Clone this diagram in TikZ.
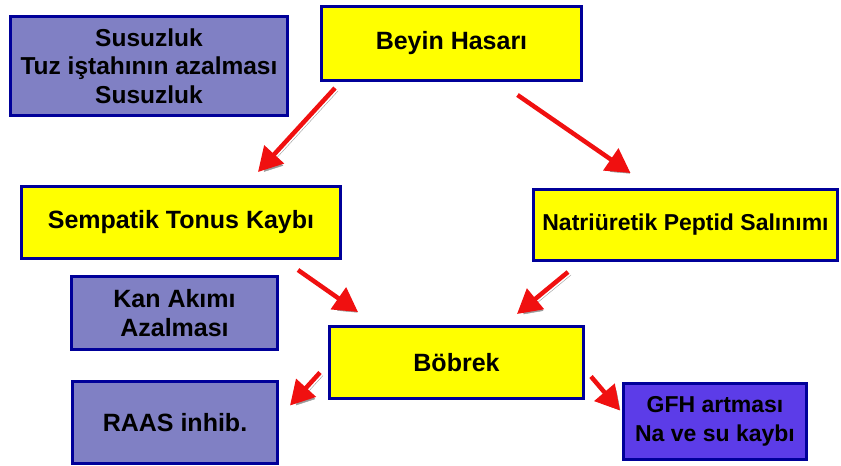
\documentclass[tikz,border=0pt]{standalone}
\usepackage{fontspec}
\setmainfont{Liberation Sans}
\usetikzlibrary{arrows.meta,positioning}
\definecolor{cborder}{HTML}{000099}
\definecolor{cyellow}{HTML}{FFFF00}
\definecolor{clilac}{HTML}{8080C4}
\definecolor{cviolet}{HTML}{5C3CE8}
\definecolor{carrow}{HTML}{F01010}

\begin{document}
\begin{tikzpicture}[
    x=1pt, y=-1pt,
    box/.style={
        draw=cborder, line width=3pt, fill=#1,
        align=center, text=black, inner sep=2pt,
        font=\fontsize{25}{29}\selectfont\bfseries,
    },
    flow/.style={
        -{Triangle[length=24pt,width=26pt]}, line width=4.5pt, carrow,
        preaction={draw=black!40, transform canvas={shift={(3pt,-3pt)}}},
    },
]
\useasboundingbox (0,0) rectangle (841,466);

% ============================================================
% MAIN CHAIN (yellow)
% ============================================================
\node[box=cyellow, minimum width=260pt, minimum height=74pt] (beyin)
    at (451.5,43.5) {Beyin Hasarı};

\node[box=cyellow, minimum width=319pt, minimum height=72pt] (sempatik)
    at (181,222.5) {Sempatik Tonus Kaybı};

\node[box=cyellow, minimum width=304pt, minimum height=71pt,
    font=\fontsize{23}{27}\selectfont\bfseries] (natri)
    at (685.5,225) {Natriüretik Peptid Salınımı};

\node[box=cyellow, minimum width=254pt, minimum height=72pt] (bobrek)
    at (456.5,362.5) {Böbrek};

% ============================================================
% EFFECTS (purple)
% ============================================================
\node[box=clilac, minimum width=277pt, minimum height=99pt,
    font=\fontsize{24.5}{28.5}\selectfont\bfseries] (susuz)
    at (149,66) {Susuzluk\\Tuz iştahının azalması\\Susuzluk};

\node[box=clilac, minimum width=206pt, minimum height=73pt] (kan)
    at (174.5,313) {Kan Akımı\\Azalması};

\node[box=clilac, minimum width=205pt, minimum height=82pt] (raas)
    at (175,422.5) {RAAS inhib.};

\node[box=cviolet, minimum width=183pt, minimum height=76pt,
    font=\fontsize{23}{29}\selectfont\bfseries] (gfh)
    at (715,421.5) {GFH artması\\Na ve su kaybı};

% ============================================================
% ARROWS
% ============================================================
\draw[flow] ([xshift=15pt,yshift=-6pt]beyin.south west)
    -- ([xshift=77pt,yshift=13pt]sempatik.north);
\draw[flow] ([xshift=66pt,yshift=-13pt]beyin.south)
    -- ([xshift=-55pt,yshift=15pt]natri.north);
\draw[flow] ([xshift=-44pt,yshift=-10pt]sempatik.south east)
    -- ([xshift=30pt,yshift=13pt]bobrek.north west);
\draw[flow] ([xshift=36pt,yshift=-10pt]natri.south west)
    -- ([xshift=-68pt,yshift=11pt]bobrek.north east);
\draw[flow] ([xshift=-8pt,yshift=-10pt]bobrek.west)
    -- ([xshift=11pt,yshift=17pt]raas.east);
\draw[flow] ([xshift=6pt,yshift=-14pt]bobrek.east)
    -- ([xshift=-2pt,yshift=11pt]gfh.west);

\end{tikzpicture}
\end{document}
